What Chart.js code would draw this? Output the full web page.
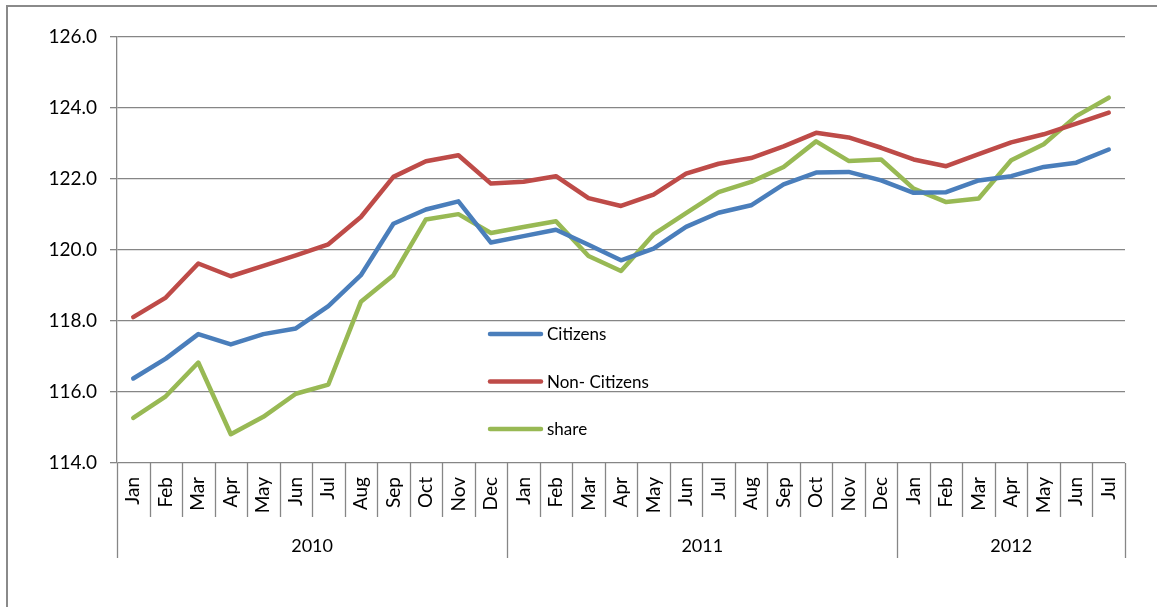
<!DOCTYPE html>
<html>
<head>
<meta charset="utf-8">
<script src="https://cdn.jsdelivr.net/npm/chart.js@4.4.0/dist/chart.umd.min.js"></script>
<style>
  html, body { margin: 0; padding: 0; background: #fff; }
  #wrap { position: relative; width: 1157px; height: 607px; overflow: hidden; }
  #frame { position: absolute; left: 6px; top: 5px; width: 1300px; height: 800px;
           border-left: 2px solid #8a8a8a; border-top: 2px solid #8a8a8a; }
  canvas { position: absolute; left: 0; top: 0; }
</style>
</head>
<body>
<div id="wrap">
  <div id="frame"></div>
  <canvas id="chart" width="1157" height="607"></canvas>
</div>
<script>
// data
const months = ['Jan', 'Feb', 'Mar', 'Apr', 'May', 'Jun', 'Jul', 'Aug', 'Sep', 'Oct', 'Nov', 'Dec',
  'Jan', 'Feb', 'Mar', 'Apr', 'May', 'Jun', 'Jul', 'Aug', 'Sep', 'Oct', 'Nov', 'Dec',
  'Jan', 'Feb', 'Mar', 'Apr', 'May', 'Jun', 'Jul'];
const years = ['2010', '2011', '2012'];
const yearSpans = [12, 12, 7];

const citizens = [116.38, 116.94, 117.63, 117.34, 117.63, 117.79, 118.42, 119.29, 120.74, 121.14, 121.37, 120.21,
  120.39, 120.57, 120.15, 119.71, 120.04, 120.65, 121.05, 121.26, 121.85, 122.18, 122.20, 121.96,
  121.61, 121.63, 121.96, 122.08, 122.34, 122.46, 122.83];
const nonCitizens = [118.11, 118.66, 119.62, 119.26, 119.55, 119.85, 120.16, 120.93, 122.06, 122.50, 122.67, 121.87,
  121.92, 122.08, 121.46, 121.24, 121.56, 122.15, 122.43, 122.59, 122.92, 123.30, 123.17, 122.88,
  122.55, 122.36, 122.70, 123.03, 123.26, 123.56, 123.87];
const share = [115.27, 115.88, 116.83, 114.81, 115.30, 115.95, 116.21, 118.54, 119.29, 120.86, 121.01, 120.48,
  120.65, 120.81, 119.83, 119.41, 120.44, 121.04, 121.63, 121.92, 122.34, 123.06, 122.51, 122.55,
  121.73, 121.35, 121.45, 122.53, 122.98, 123.77, 124.29];

const yMin = 114, yMax = 126, yStep = 2;

const gridColor = '#868686';
const fontFamily = "Lato, 'Open Sans', sans-serif";

Chart.defaults.font.family = fontFamily;
Chart.defaults.font.size = 17;
Chart.defaults.color = '#000';

// legend sits inside the plot, like the Excel original
const insideLegend = {
  id: 'insideLegend',
  afterDraw(chart) {
    const ctx = chart.ctx;
    ctx.save();
    chart.data.datasets.forEach((ds, i) => {
      const y = 334 + i * 47.5;
      ctx.strokeStyle = ds.borderColor;
      ctx.lineWidth = 4.5;
      ctx.lineCap = 'round';
      ctx.beginPath();
      ctx.moveTo(490, y);
      ctx.lineTo(541, y);
      ctx.stroke();
      ctx.fillStyle = '#000';
      ctx.font = '17px ' + fontFamily;
      ctx.textBaseline = 'middle';
      ctx.fillText(ds.label, 547, y + 1);
    });
    ctx.restore();
  }
};

// month separators + year row under the x axis
const groupAxis = {
  id: 'groupAxis',
  afterDraw(chart) {
    const xs = chart.scales.x, bottom = chart.chartArea.bottom, ctx = chart.ctx;
    const edges = [0];
    yearSpans.forEach(n => edges.push(edges[edges.length - 1] + n));
    ctx.save();
    ctx.strokeStyle = gridColor;
    ctx.lineWidth = 1.3;
    for (let i = 0; i <= months.length; i++) {
      const px = Math.round(xs.getPixelForValue(i - 0.5)) + 0.5;
      const len = edges.includes(i) ? 95 : 54;
      ctx.beginPath();
      ctx.moveTo(px, bottom);
      ctx.lineTo(px, bottom + len);
      ctx.stroke();
    }
    ctx.fillStyle = '#000';
    ctx.font = '18px ' + fontFamily;
    ctx.textAlign = 'center';
    ctx.textBaseline = 'middle';
    years.forEach((yr, k) => {
      const a = xs.getPixelForValue(edges[k] - 0.5);
      const b = xs.getPixelForValue(edges[k + 1] - 0.5);
      ctx.fillText(yr, (a + b) / 2, bottom + 83);
    });
    ctx.restore();
  }
};

const lineDs = (label, data, color) => ({
  label, data,
  borderColor: color,
  backgroundColor: color,
  borderWidth: 4.5,
  pointRadius: 0,
  tension: 0,
  borderJoinStyle: 'round',
  borderCapStyle: 'round'
});

new Chart(document.getElementById('chart'), {
  type: 'line',
  data: {
    labels: months,
    datasets: [
      lineDs('Citizens', citizens, '#4a7ebb'),
      lineDs('Non- Citizens', nonCitizens, '#be4b48'),
      lineDs('share', share, '#98b954')
    ]
  },
  options: {
    responsive: false,
    animation: false,
    layout: { padding: { top: 37, right: 32, bottom: 0, left: 0 } },
    plugins: { legend: { display: false }, tooltip: { enabled: false } },
    scales: {
      x: {
        offset: true,
        grid: { display: false, drawTicks: false },
        border: { display: false },
        ticks: { autoSkip: false, minRotation: 90, maxRotation: 90, padding: 14, color: '#000', font: { size: 19 } },
        afterFit(scale) { scale.height = 144; }
      },
      y: {
        min: yMin,
        max: yMax,
        grid: { color: gridColor, lineWidth: 1.3, tickLength: 7 },
        border: { display: true, color: gridColor, width: 1.3 },
        ticks: { stepSize: yStep, padding: 13, color: '#000', font: { size: 19 }, callback: v => v.toFixed(1) },
        afterFit(scale) { scale.width = 117; }
      }
    }
  },
  plugins: [insideLegend, groupAxis]
});
</script>
</body>
</html>
